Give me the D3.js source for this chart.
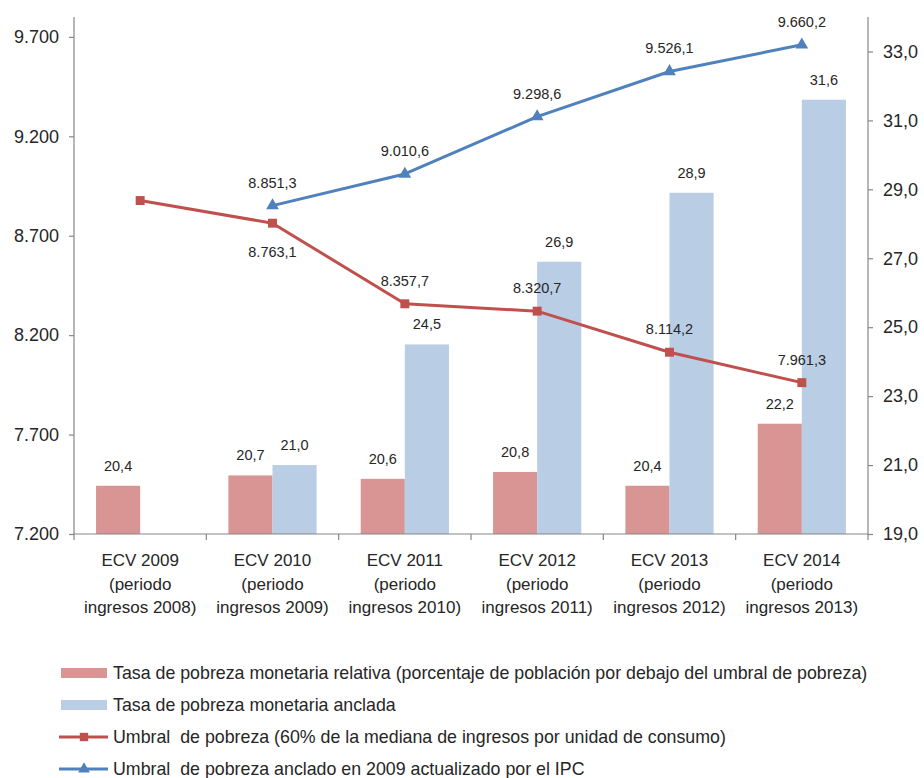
<!DOCTYPE html>
<html>
<head>
<meta charset="utf-8">
<script src="https://cdn.jsdelivr.net/npm/d3@7"></script>
<style>
  html, body { margin: 0; padding: 0; background: #fff; }
  svg { display: block; font-family: "Liberation Sans", Arial, sans-serif; }
  text { white-space: pre; }
</style>
</head>
<body>
<svg id="chart" width="924" height="778"></svg>
<script>
// ---------- data ----------
const categories = [
  ["ECV 2009", "(periodo", "ingresos 2008)"],
  ["ECV 2010", "(periodo", "ingresos 2009)"],
  ["ECV 2011", "(periodo", "ingresos 2010)"],
  ["ECV 2012", "(periodo", "ingresos 2011)"],
  ["ECV 2013", "(periodo", "ingresos 2012)"],
  ["ECV 2014", "(periodo", "ingresos 2013)"]
];
const tasaRelativa = [20.4, 20.7, 20.6, 20.8, 20.4, 22.2];
const tasaAnclada  = [null, 21.0, 24.5, 26.9, 28.9, 31.6];
const umbral       = [8877.0, 8763.1, 8357.7, 8320.7, 8114.2, 7961.3];
const umbralAnclado = [null, 8851.3, 9010.6, 9298.6, 9526.1, 9660.2];
const umbralShowLabel = [false, true, true, true, true, true];
const umbralLabelBelow = [false, true, false, false, false, false];
const leftTicks  = [7200, 7700, 8200, 8700, 9200, 9700];
const rightTicks = [19, 21, 23, 25, 27, 29, 31, 33];
const legendLabels = [
  "Tasa de pobreza monetaria relativa (porcentaje de población por debajo del umbral de pobreza)",
  "Tasa de pobreza monetaria anclada",
  "Umbral  de pobreza (60% de la mediana de ingresos por unidad de consumo)",
  "Umbral  de pobreza anclado en 2009 actualizado por el IPC"
];

// ---------- style ----------
const C = {
  barRel: "#D99594",
  barAnc: "#B9CDE5",
  lineRed: "#C0504D",
  lineBlue: "#4F81BD",
  axis: "#868686",
  text: "#262626"
};

const loc = d3.formatLocale({decimal: ",", thousands: ".", grouping: [3], currency: ["", "€"]});
const fmtLeft = loc.format(",.0f");
const fmtRight = loc.format(".1f");
const fmtVal = loc.format(",.1f");

const svg = d3.select("#chart");
const m = {left: 74, right: 868, top: 17, bottom: 534};

const x = d3.scaleBand().domain(d3.range(categories.length)).range([m.left, m.right]).paddingInner(0).paddingOuter(0);
const xs = d3.scaleBand().domain([0, 1]).range([0, x.bandwidth()]).paddingOuter(0.5).paddingInner(0);
const yL = d3.scaleLinear().domain([7200, 9800]).range([m.bottom, m.top]);
const yR = d3.scaleLinear().domain([19, 34]).range([m.bottom, m.top]);

// ---------- bars ----------
const gBars = svg.append("g");
const barSeries = [
  {vals: tasaRelativa, color: C.barRel, k: 0},
  {vals: tasaAnclada, color: C.barAnc, k: 1}
];
barSeries.forEach(s => {
  const data = s.vals.map((v, i) => ({v, i})).filter(d => d.v != null);
  gBars.selectAll(null).data(data).enter().append("rect")
    .attr("x", d => x(d.i) + xs(s.k))
    .attr("width", xs.bandwidth())
    .attr("y", d => yR(d.v))
    .attr("height", d => yR(19) - yR(d.v))
    .attr("fill", s.color);
  gBars.selectAll(null).data(data).enter().append("text")
    .attr("x", d => x(d.i) + xs(s.k) + xs.bandwidth() / 2)
    .attr("y", d => yR(d.v) - 20)
    .attr("text-anchor", "middle")
    .attr("dominant-baseline", "central")
    .attr("font-size", 14.5)
    .attr("fill", C.text)
    .text(d => fmtRight(d.v));
});

// ---------- axes ----------
const axL = d3.axisLeft(yL).tickValues(leftTicks).tickFormat(fmtLeft).tickSize(5).tickPadding(10);
const axR = d3.axisRight(yR).tickValues(rightTicks).tickFormat(fmtRight).tickSize(5).tickPadding(10);

function styleAxis(g) {
  g.select(".domain").attr("stroke", C.axis).attr("stroke-width", 1.2);
  g.selectAll(".tick line").attr("stroke", C.axis).attr("stroke-width", 1.2);
  g.selectAll(".tick text").attr("fill", C.text).attr("font-size", 18).attr("font-family", "Liberation Sans, Arial, sans-serif");
}
const gL = svg.append("g").attr("transform", `translate(${m.left},0)`).call(axL.tickSizeOuter(0));
styleAxis(gL);
gL.select(".domain").attr("d", `M0,${m.top}V${m.bottom}`);
const gR = svg.append("g").attr("transform", `translate(${m.right},0)`).call(axR.tickSizeOuter(0));
styleAxis(gR);
gR.select(".domain").attr("d", `M0,${m.top}V${m.bottom}`);

// x axis
const gX = svg.append("g");
gX.append("line").attr("x1", m.left).attr("x2", m.right).attr("y1", m.bottom).attr("y2", m.bottom)
  .attr("stroke", C.axis).attr("stroke-width", 1.2);
const bounds = d3.range(categories.length + 1).map(i => i < categories.length ? x(i) : x(i - 1) + x.bandwidth());
gX.selectAll(null).data(bounds).enter().append("line")
  .attr("x1", d => d).attr("x2", d => d).attr("y1", m.bottom).attr("y2", m.bottom + 6)
  .attr("stroke", C.axis).attr("stroke-width", 1.2);
const catG = gX.selectAll(null).data(categories).enter().append("text")
  .attr("text-anchor", "middle").attr("font-size", 17).attr("fill", C.text);
catG.each(function(lines, i) {
  const t = d3.select(this);
  lines.forEach((ln, j) => {
    t.append("tspan").attr("x", x(i) + x.bandwidth() / 2).attr("y", 566 + j * 23.5).text(ln);
  });
});

// ---------- lines ----------
function drawLine(vals, color, marker, labelFn) {
  const data = vals.map((v, i) => ({v, i})).filter(d => d.v != null);
  const line = d3.line().x(d => x(d.i) + x.bandwidth() / 2).y(d => yL(d.v));
  svg.append("path").datum(data).attr("d", line).attr("fill", "none")
    .attr("stroke", color).attr("stroke-width", 3).attr("stroke-linejoin", "round");
  const sym = d3.symbol().type(marker === "square" ? d3.symbolSquare : d3.symbolTriangle).size(marker === "square" ? 80 : 70);
  svg.selectAll(null).data(data).enter().append("path")
    .attr("d", sym)
    .attr("transform", d => `translate(${x(d.i) + x.bandwidth() / 2},${yL(d.v)})`)
    .attr("fill", color);
  svg.selectAll(null).data(data.filter(d => labelFn(d.i) !== null)).enter().append("text")
    .attr("x", d => x(d.i) + x.bandwidth() / 2)
    .attr("y", d => yL(d.v) + labelFn(d.i))
    .attr("text-anchor", "middle").attr("dominant-baseline", "central")
    .attr("font-size", 14.5).attr("fill", C.text)
    .text(d => fmtVal(d.v));
}
drawLine(umbral, C.lineRed, "square", i => umbralShowLabel[i] ? (umbralLabelBelow[i] ? 29 : -23) : null);
drawLine(umbralAnclado, C.lineBlue, "triangle", i => -23);

// ---------- legend ----------
const legY = [673, 705, 737, 769];
const gLeg = svg.append("g");
legendLabels.forEach((lab, i) => {
  const y = legY[i];
  if (i < 2) {
    gLeg.append("rect").attr("x", 61).attr("y", y - 5).attr("width", 46).attr("height", 10)
      .attr("fill", i === 0 ? C.barRel : C.barAnc);
  } else {
    const col = i === 2 ? C.lineRed : C.lineBlue;
    gLeg.append("line").attr("x1", 59).attr("x2", 108).attr("y1", y).attr("y2", y)
      .attr("stroke", col).attr("stroke-width", 3);
    gLeg.append("path")
      .attr("d", d3.symbol().type(i === 2 ? d3.symbolSquare : d3.symbolTriangle).size(i === 2 ? 70 : 60))
      .attr("transform", `translate(84,${y})`).attr("fill", col);
  }
  gLeg.append("text").attr("x", 113).attr("y", y).attr("dominant-baseline", "central")
    .attr("font-size", 17.8).attr("fill", C.text).text(lab);
});
</script>
</body>
</html>
